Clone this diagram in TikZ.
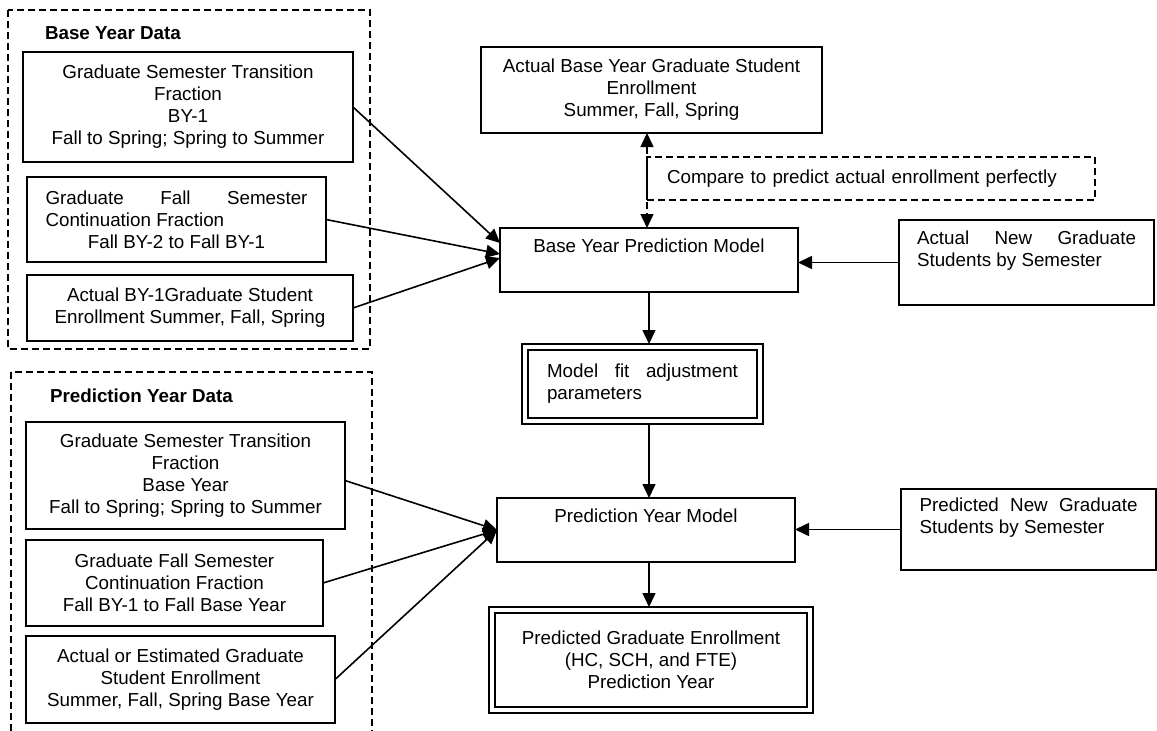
\documentclass[tikz,border=0pt]{standalone}
\usepackage{fontspec}
\setmainfont{Liberation Sans}
\usetikzlibrary{arrows.meta,calc}

\begin{document}
\begin{tikzpicture}[x=1pt,y=-1pt,
  every node/.style={inner sep=0pt, outer sep=0pt},
  box/.style={draw, line width=1.6pt, align=center,
    font=\fontsize{18.8}{22}\selectfont},
  dblbox/.style={box, line width=2.6pt},
  group/.style={draw, line width=1.5pt, dash pattern=on 7pt off 4pt},
  grouptitle/.style={anchor=west, font=\bfseries\fontsize{18.8}{22}\selectfont},
  tip/.style={},
  link/.style={line width=1.6pt, -{Triangle[length=14pt,width=13pt]}},
  cmplink/.style={line width=1.5pt, dash pattern=on 7pt off 4pt,
    {Triangle[length=14pt,width=13pt]}-{Triangle[length=14pt,width=13pt]}}
]
\useasboundingbox (0,0) rectangle (1157,731);

% ---- data groups ----
\draw[group] (8,10) rectangle (370,349);
\node[grouptitle] (bytitle) at (45,33) {Base Year Data};
\draw[group] (11,372) rectangle (372,770);
\node[grouptitle] (pytitle) at (50,396) {Prediction Year Data};

% base year inputs
\node[box, minimum width=330pt, minimum height=110pt] (b1) at (188,107)
  {Graduate Semester Transition\\Fraction\\BY-1\\Fall to Spring; Spring to Summer};
\node[box, minimum width=299pt, minimum height=85pt] (b2) at (176.5,219.5)
  {\makebox[262pt][s]{Graduate Fall Semester}\\
   \makebox[262pt][l]{Continuation Fraction}\\
   Fall BY-2 to Fall BY-1};
\node[box, minimum width=326pt, minimum height=66pt] (b3) at (190,308)
  {Actual BY-1Graduate Student\\Enrollment Summer, Fall, Spring};

% prediction year inputs
\node[box, minimum width=319pt, minimum height=107pt] (p1) at (185.5,475.5)
  {Graduate Semester Transition\\Fraction\\Base Year\\Fall to Spring; Spring to Summer};
\node[box, minimum width=297pt, minimum height=86pt] (p2) at (174.5,583)
  {Graduate Fall Semester\\Continuation Fraction\\Fall BY-1 to Fall Base Year};
\node[box, minimum width=309pt, minimum height=87pt] (p3) at (180.5,679.5)
  {Actual or Estimated Graduate\\Student Enrollment\\Summer, Fall, Spring Base Year};

% ---- model column ----
\node[box, minimum width=341pt, minimum height=86pt] (actual) at (651.5,90)
  {Actual Base Year Graduate Student\\Enrollment\\Summer, Fall, Spring};
\node[box, group, align=left, text width=408pt, inner xsep=20pt,
      minimum height=43pt] (compare) at (871,178.5)
  {Compare to predict actual enrollment perfectly};
\node[box, minimum width=298pt, minimum height=64pt] (bmodel) at (649,260)
  {Base Year Prediction Model\\\strut};
\node[box, minimum width=255pt, minimum height=85pt] (newact) at (1026.5,262.5)
  {\makebox[219pt][s]{Actual New Graduate}\\
   \makebox[219pt][l]{Students by Semester}\\\strut};
\node[dblbox, minimum width=241pt, minimum height=80pt] (fit) at (642.5,384)
  {\makebox[191pt][s]{Model fit adjustment}\\
   \makebox[191pt][l]{parameters}};
\draw[line width=1.6pt] ([shift={(6pt,-6pt)}]fit.north west)
  rectangle ([shift={(-6pt,6pt)}]fit.south east);
\node[box, minimum width=298pt, minimum height=64pt] (pmodel) at (646,530)
  {Prediction Year Model\\\strut};
\node[box, minimum width=255pt, minimum height=81pt] (newpred) at (1028.5,529.5)
  {\makebox[218pt][s]{Predicted New Graduate}\\
   \makebox[218pt][l]{Students by Semester}\\\strut};
\node[dblbox, minimum width=324pt, minimum height=106pt] (final) at (651,660)
  {Predicted Graduate Enrollment\\(HC, SCH, and FTE)\\Prediction Year};
\draw[line width=1.6pt] ([shift={(6pt,-6pt)}]final.north west)
  rectangle ([shift={(-6pt,6pt)}]final.south east);

% ---- connectors ----
\draw[link] (b1.east) -- ([yshift=17pt]bmodel.west);
\draw[link] (b2.east) -- ([yshift=6pt]bmodel.west);
\draw[link] (b3.east) -- ([yshift=2pt]bmodel.west);

\draw[link] ([yshift=-5pt]p1.east) -- (pmodel.west);
\draw[link] (p2.east) -- (pmodel.west);
\draw[link] (p3.east) -- (pmodel.west);

\draw[cmplink] (compare.west |- actual.south) -- (compare.west |- bmodel.north);
\draw[link] (newact.west) -- (newact.west -| bmodel.east);
\draw[link] (bmodel.south) -- (bmodel.south |- fit.north);
\draw[link] (bmodel.south |- fit.south) -- (bmodel.south |- pmodel.north);
\draw[link] (newpred.west) -- (newpred.west -| pmodel.east);
\draw[link] (bmodel.south |- pmodel.south) -- (bmodel.south |- final.north);
\end{tikzpicture}
\end{document}
